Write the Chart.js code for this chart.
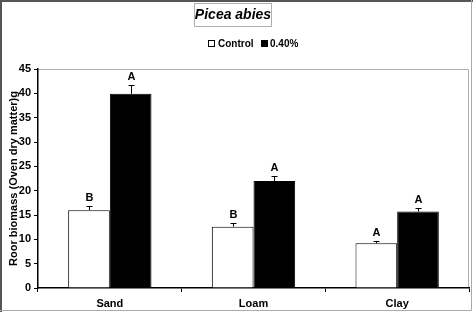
<!DOCTYPE html>
<html>
<head>
<meta charset="utf-8">
<script src="https://cdn.jsdelivr.net/npm/chart.js@4"></script>
<style>
  html, body { margin: 0; padding: 0; background: #fff; }
  canvas { display: block; }
</style>
</head>
<body>
<canvas id="barChart" width="473" height="312"></canvas>
<script>
var categories = ['Sand', 'Loam', 'Clay'];
var seriesNames = ['Control', '0.40%'];
var controlValues = [16.0, 12.6, 9.2];
var treatedValues = [39.9, 22.0, 15.7];
var controlErrors = [0.8, 0.7, 0.45];
var treatedErrors = [1.8, 1.0, 0.7];
var controlLetters = ['B', 'B', 'A'];
var treatedLetters = ['A', 'A', 'A'];
var yTicks = [0, 5, 10, 15, 20, 25, 30, 35, 40, 45];

var FONT = 'Arial, "Liberation Sans", sans-serif';
var errors = [controlErrors, treatedErrors];
var letters = [controlLetters, treatedLetters];

// frame, title box, legend, plot border
var decorations = {
    id: 'decorations',
    beforeDraw: function (chart) {
        var ctx = chart.ctx;
        var area = chart.chartArea;
        ctx.save();
        ctx.fillStyle = '#fff';
        ctx.fillRect(0, 0, chart.width, chart.height);
        // plot area top/right border
        ctx.strokeStyle = '#b0b0b0';
        ctx.lineWidth = 1;
        ctx.beginPath();
        ctx.moveTo(area.left, area.top + 0.5);
        ctx.lineTo(area.right - 0.5, area.top + 0.5);
        ctx.lineTo(area.right - 0.5, area.bottom);
        ctx.stroke();
        ctx.restore();
    },
    afterDraw: function (chart) {
        var ctx = chart.ctx;
        ctx.save();
        // outer frame
        ctx.strokeStyle = '#555';
        ctx.lineWidth = 2;
        ctx.beginPath();
        ctx.moveTo(1, chart.height);
        ctx.lineTo(1, 1);
        ctx.lineTo(chart.width, 1);
        ctx.stroke();
        ctx.strokeStyle = '#aaa';
        ctx.lineWidth = 1;
        ctx.beginPath();
        ctx.moveTo(chart.width - 1.5, 0);
        ctx.lineTo(chart.width - 1.5, chart.height - 1.5);
        ctx.lineTo(0, chart.height - 1.5);
        ctx.stroke();

        // title box
        ctx.strokeStyle = '#b0b0b0';
        ctx.strokeRect(194.5, 3.5, 77, 23);
        ctx.fillStyle = '#000';
        ctx.font = 'italic bold 14px ' + FONT;
        ctx.textAlign = 'center';
        ctx.textBaseline = 'middle';
        ctx.fillText('Picea abies', 233, 15);

        // legend
        ctx.font = 'bold 10px ' + FONT;
        ctx.textAlign = 'left';
        ctx.lineWidth = 1;
        ctx.strokeStyle = '#000';
        ctx.fillStyle = '#fff';
        ctx.fillRect(208.5, 40.5, 6, 6);
        ctx.strokeRect(208.5, 40.5, 6, 6);
        ctx.fillStyle = '#000';
        ctx.fillText(seriesNames[0], 218, 44);
        ctx.fillRect(261, 40, 7, 7);
        ctx.fillText(seriesNames[1], 270, 44);

        // error bars and letters
        chart.data.datasets.forEach(function (ds, di) {
            var meta = chart.getDatasetMeta(di);
            var yScale = chart.scales.y;
            meta.data.forEach(function (bar, i) {
                var v = ds.data[i];
                var top = yScale.getPixelForValue(v + errors[di][i]);
                var x = Math.round(bar.x) + 0.5;
                ctx.strokeStyle = '#000';
                ctx.lineWidth = 1;
                ctx.beginPath();
                ctx.moveTo(x, bar.y);
                ctx.lineTo(x, top);
                ctx.moveTo(x - 3, Math.round(top) + 0.5);
                ctx.lineTo(x + 3, Math.round(top) + 0.5);
                ctx.stroke();
                ctx.fillStyle = '#000';
                ctx.font = 'bold 11px ' + FONT;
                ctx.textAlign = 'center';
                ctx.textBaseline = 'bottom';
                ctx.fillText(letters[di][i], x, top - 3);
            });
        });
        ctx.restore();
    }
};

var canvas = document.getElementById('barChart');

var barChart = new Chart(canvas, {
    type: 'bar',
    data: {
        labels: categories,
        datasets: [{
            label: seriesNames[0],
            data: controlValues,
            backgroundColor: '#fff',
            borderColor: '#000',
            borderWidth: 1
        }, {
            label: seriesNames[1],
            data: treatedValues,
            backgroundColor: '#000',
            borderColor: '#000',
            borderWidth: 1
        }]
    },
    options: {
        responsive: false,
        animation: false,
        categoryPercentage: 0.58,
        barPercentage: 1.0,
        layout: {
            padding: { top: 69, right: 4, left: 0, bottom: 0 }
        },
        plugins: {
            legend: { display: false },
            title: { display: false },
            tooltip: { enabled: false }
        },
        scales: {
            x: {
                offset: true,
                grid: {
                    offset: true,
                    drawOnChartArea: false,
                    drawTicks: true,
                    tickLength: 4,
                    color: '#000'
                },
                border: { display: true, color: '#000', width: 1.5 },
                ticks: {
                    color: '#000',
                    padding: 5,
                    font: { family: FONT, size: 11, weight: 'bold' }
                },
                afterFit: function (scale) { scale.height = 24; }
            },
            y: {
                min: 0,
                max: 45,
                afterBuildTicks: function (scale) {
                    scale.ticks = yTicks.map(function (v) { return { value: v }; });
                },
                grid: {
                    drawOnChartArea: false,
                    drawTicks: true,
                    tickLength: 4,
                    color: '#000'
                },
                border: { display: true, color: '#000', width: 1.5 },
                ticks: {
                    color: '#000',
                    padding: 3,
                    font: { family: FONT, size: 11, weight: 'bold' }
                },
                title: {
                    display: true,
                    text: 'Roor biomass (Oven dry matter)g',
                    color: '#000',
                    padding: { top: 7, bottom: 0 },
                    font: { family: FONT, size: 11, weight: 'bold' }
                },
                afterFit: function (scale) { scale.width = 38; }
            }
        }
    },
    plugins: [decorations]
});
</script>
</body>
</html>
